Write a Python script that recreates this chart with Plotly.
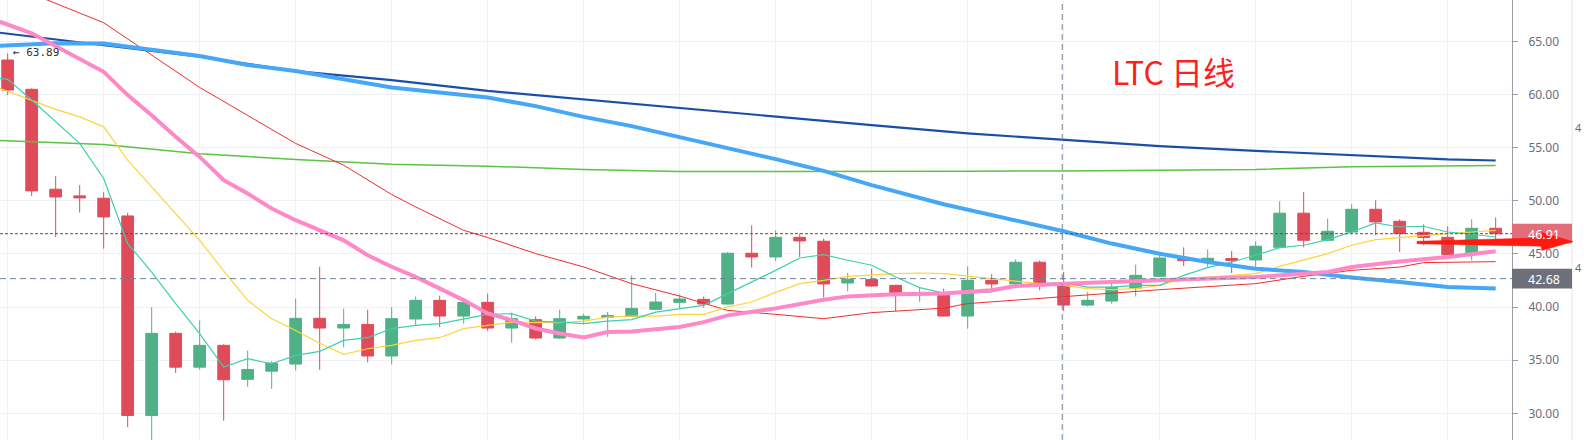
import plotly.graph_objects as go

# ---------------- data ----------------
idx = list(range(63))
opens = [63.26, 60.50, 51.10, 50.47, 50.25, 48.58, 29.80, 37.53, 34.35, 36.40,
         33.20, 33.97, 34.64, 38.94, 38.03, 38.37, 35.40, 38.88, 40.64, 39.16,
         40.45, 38.03, 38.82, 37.09, 38.88, 39.03, 39.13, 39.79, 40.45, 40.73,
         40.29, 45.07, 44.72, 46.57, 46.20, 42.27, 42.59, 42.05, 41.15, 41.10,
         39.16, 42.52, 42.18, 44.22, 42.05, 40.19, 40.57, 41.79, 42.90, 44.57,
         44.35, 44.57, 44.44, 45.63, 48.84, 46.29, 47.07, 49.21, 48.08, 47.04,
         46.57, 45.10, 47.42]
highs = [63.89, 60.60, 52.32, 51.48, 50.82, 48.87, 40.00, 37.70, 38.75, 36.50,
         35.90, 34.90, 40.80, 43.80, 39.85, 39.76, 40.00, 41.00, 41.08, 40.60,
         41.27, 39.48, 39.13, 39.76, 39.38, 39.54, 42.99, 41.33, 41.20, 41.00,
         45.16, 47.70, 47.23, 46.92, 46.45, 43.21, 43.62, 42.10, 41.90, 41.74,
         43.84, 43.09, 44.50, 44.41, 43.30, 41.42, 42.27, 44.00, 45.03, 45.63,
         45.44, 45.28, 46.20, 49.97, 50.84, 48.34, 49.68, 50.06, 48.27, 47.80,
         47.61, 48.27, 48.43]
lows = [59.96, 50.47, 46.60, 48.90, 45.50, 28.70, 27.30, 33.80, 34.10, 29.30,
        32.50, 32.30, 34.04, 34.10, 36.23, 34.80, 34.60, 38.25, 38.12, 38.45,
        37.74, 36.65, 36.96, 37.00, 38.37, 37.20, 39.10, 39.70, 39.88, 39.95,
        40.25, 43.72, 44.34, 44.72, 40.90, 41.48, 41.90, 39.63, 40.50, 39.10,
        37.97, 41.67, 42.10, 41.58, 39.63, 40.07, 40.32, 41.00, 42.83, 43.87,
        43.78, 43.20, 43.68, 45.60, 45.63, 46.20, 46.86, 46.76, 45.19, 45.82,
        44.90, 44.41, 46.30]
closes = [60.43, 50.94, 50.37, 50.28, 48.49, 29.80, 37.53, 34.35, 36.40, 33.16,
          34.13, 34.73, 38.94, 38.03, 38.37, 35.40, 38.91, 40.64, 39.16, 40.45,
          38.03, 38.91, 37.09, 38.91, 39.13, 39.22, 39.88, 40.48, 40.76, 40.29,
          45.07, 44.72, 46.57, 46.23, 42.18, 42.62, 41.99, 41.30, 41.25, 39.16,
          42.52, 42.18, 44.22, 42.21, 40.19, 40.64, 41.86, 42.99, 44.62, 44.38,
          44.60, 44.38, 45.73, 48.84, 46.29, 47.14, 49.21, 48.02, 46.92, 46.55,
          44.94, 47.42, 46.91]

ma_navy_x = [-0.33, 4, 8, 12, 16, 20, 24, 28, 32, 36, 40, 44, 48, 52, 56, 60, 62]
ma_navy_y = [65.83, 64.67, 63.57, 62.22, 61.37, 60.36, 59.55, 58.76, 57.88, 57.13,
             56.35, 55.72, 55.15, 54.71, 54.33, 53.90, 53.80]

ma_sky_x = [-0.33, 2, 4, 6, 8, 10, 12, 16, 20, 22, 24, 26, 28, 30, 32, 34, 36,
            39, 40, 42, 44, 46, 48, 50, 52, 54, 56, 58, 60, 62]
ma_sky_y = [64.60, 64.83, 64.81, 64.20, 63.63, 62.79, 62.22, 60.68, 59.74, 58.92,
            57.91, 57.04, 56.03, 54.93, 53.93, 52.82, 51.48, 49.68, 49.18,
            48.11, 47.14, 45.98, 45.03, 44.25, 43.62, 43.30, 42.78, 42.36, 41.89, 41.74]

ma_green_x = [-0.33, 4, 8, 12, 16, 20, 24, 28, 32, 36, 40, 44, 48, 52, 56, 60, 62]
ma_green_y = [55.69, 55.31, 54.43, 53.90, 53.45, 53.27, 52.95, 52.77, 52.77, 52.75,
              52.79, 52.82, 52.89, 52.95, 53.22, 53.29, 53.33]

ma_red_x = [1, 2, 4, 8, 12, 14, 16, 17, 18, 19, 20, 22, 24, 26, 28, 30, 32, 34, 36,
            39, 40, 44, 48, 52, 54, 56, 58, 59, 62]
ma_red_y = [69.5, 68.6, 66.77, 60.68, 55.41, 53.36, 50.6, 49.43, 48.34, 47.23, 46.55,
            45.04, 43.78, 42.21, 41.04, 39.69, 39.32, 38.91, 39.48, 39.90, 40.33,
            41.01, 41.64, 42.21, 42.90, 43.46, 43.77, 44.19, 44.28]

ma_pink_x = [-0.33, 1, 4, 5, 6, 7, 8, 9, 10, 11, 12, 13, 14, 15, 16, 17, 18, 19, 20,
             21, 22, 23, 24, 25, 26, 28, 29, 30, 32, 34, 35, 37, 39, 41, 42, 44, 48,
             52, 55, 56, 58, 60, 62]
ma_pink_y = [66.87, 65.77, 62.15, 59.96, 58.07, 56.03, 54.14, 51.95, 50.69, 49.28,
             48.18, 47.23, 46.29, 44.88, 43.80, 42.84, 41.76, 40.66, 39.40, 38.78,
             37.99, 37.52, 37.15, 37.65, 37.71, 38.12, 38.59, 39.22, 39.88, 40.70,
             41.01, 41.20, 41.27, 41.58, 41.98, 42.21, 42.52, 42.83, 43.30, 43.77,
             44.30, 44.72, 45.25]

ma_yellow_x = [-0.33, 1, 2, 3, 4, 5, 6, 7, 8, 9, 10, 11, 12, 13, 14, 15, 16, 17, 18,
               19, 20, 21, 22, 23, 24, 25, 26, 27, 28, 29, 30, 31, 32, 33, 34, 35,
               37, 38, 39, 41, 43, 44, 45, 46, 47, 48, 49, 50, 52, 53, 54, 55, 56,
               57, 58, 59, 60, 61, 62]
ma_yellow_y = [60.60, 59.49, 58.61, 57.91, 56.97, 53.83, 51.31, 48.81, 46.29, 43.40,
               40.64, 38.91, 37.80, 36.60, 35.55, 36.08, 36.39, 36.87, 37.12, 37.97,
               38.28, 38.59, 38.53, 38.53, 38.68, 39.06, 39.16, 39.16, 39.32, 39.32,
               40.00, 40.48, 41.39, 42.21, 42.52, 42.90, 43.15, 43.21, 43.15, 42.68,
               42.21, 42.05, 41.74, 41.64, 41.74, 42.05, 42.68, 42.83, 43.15, 43.84,
               44.41, 45.04, 45.82, 46.36, 46.55, 46.76, 46.92, 47.07, 47.23]

ma_teal_x = [-0.33, 0, 1, 2, 3, 4, 5, 6, 7, 8, 9, 10, 11, 12, 13, 14, 15, 16, 17, 18,
             19, 20, 21, 22, 23, 24, 25, 26, 27, 28, 29, 30, 31, 32, 33, 34, 35, 36,
             37, 38, 39, 40, 41, 42, 43, 44, 45, 46, 47, 48, 49, 50, 51, 52, 53, 54,
             55, 56, 57, 58, 59, 60, 61, 62]
ma_teal_y = [61.53, 61.44, 59.49, 57.44, 55.41, 52.11, 45.98, 43.30, 40.33, 37.50,
             34.35, 35.14, 34.67, 35.45, 35.83, 36.87, 37.12, 37.97, 38.28, 38.44,
             38.91, 39.32, 39.38, 38.68, 38.59, 38.44, 38.68, 38.82, 39.53, 39.85,
             40.17, 41.27, 42.36, 43.46, 44.62, 44.94, 44.41, 43.94, 42.83, 41.83,
             41.32, 41.32, 41.42, 42.05, 42.21, 42.30, 41.89, 41.89, 42.05, 42.05,
             42.99, 43.72, 44.25, 44.88, 45.60, 45.82, 46.36, 47.07, 47.92, 47.54,
             47.61, 47.07, 46.86, 46.60]

last_price = 46.91
ref_price = 42.68
high_label = 63.89
crosshair_idx = 44
title_text = "LTC 日线"
y_ticks = [30, 35, 40, 45, 50, 55, 60, 65]

# ---------------- figure ----------------
UP = "#4fb185"
DOWN = "#e04b5a"
W, H = 1584, 440
PLOT_R = 1512  # right edge of the plotting area in px

fig = go.Figure()
fig.add_trace(go.Candlestick(
    x=idx, open=opens, high=highs, low=lows, close=closes,
    increasing=dict(line=dict(color=UP, width=1), fillcolor=UP),
    decreasing=dict(line=dict(color=DOWN, width=1), fillcolor=DOWN),
    whiskerwidth=0, showlegend=False, hoverinfo="skip"))

def ma(x, y, color, width):
    fig.add_trace(go.Scatter(x=x, y=y, mode="lines", line=dict(color=color, width=width),
                             showlegend=False, hoverinfo="skip"))

ma(ma_green_x, ma_green_y, "#5cc345", 1.5)
ma(ma_red_x, ma_red_y, "#f22c2c", 1)
ma(ma_yellow_x, ma_yellow_y, "#fdd43a", 1.2)
ma(ma_teal_x, ma_teal_y, "#3ecfae", 1.2)
ma(ma_navy_x, ma_navy_y, "#1b4ea6", 2.2)
ma(ma_sky_x, ma_sky_y, "#45a7f5", 4)
ma(ma_pink_x, ma_pink_y, "#ff88c6", 4)

shapes = [
    dict(type="line", xref="paper", x0=0, x1=1, yref="y", y0=last_price, y1=last_price,
         line=dict(color="#9b3535", width=1, dash="3px,2px")),
    dict(type="line", xref="paper", x0=0, x1=1, yref="y", y0=ref_price, y1=ref_price,
         line=dict(color="#73869a", width=1, dash="6px,4px")),
    dict(type="line", xref="x", x0=crosshair_idx - 0.06, x1=crosshair_idx - 0.06,
         yref="paper", y0=0, y1=1, line=dict(color="#73869a", width=1, dash="6px,4px")),
    dict(type="line", xref="paper", x0=1572 / PLOT_R, x1=1572 / PLOT_R, yref="paper",
         y0=0, y1=1, line=dict(color="#e1e4ea", width=1)),
    dict(type="rect", xref="paper", x0=1.0, x1=1572 / PLOT_R, yref="y",
         y0=last_price - 0.93, y1=last_price + 0.93, fillcolor="#e36e79",
         line=dict(width=0), layer="above"),
    dict(type="rect", xref="paper", x0=1.0, x1=1572 / PLOT_R, yref="y",
         y0=ref_price - 0.93, y1=ref_price + 0.93, fillcolor="#6d7079",
         line=dict(width=0), layer="above"),
]

def P(px, py):
    return f"{px / PLOT_R:.5f},{1 - py / H:.5f}"
arrow_pts = [(1417, 241.3), (1541, 237.8), (1542, 232.5), (1573, 241.5),
             (1542, 250.5), (1541, 246.2), (1417, 243.8)]
path = "M " + " L ".join(P(*p) for p in arrow_pts) + " Z"
shapes.append(dict(type="path", xref="paper", yref="paper", path=path,
                   fillcolor="#ff1a10", line=dict(color="#ff1a10", width=0.5),
                   layer="above"))

annotations = [
    dict(xref="paper", x=1.0, xanchor="left", yref="y", y=last_price, yanchor="middle",
         text=f"{last_price:.2f}", showarrow=False, width=60, height=20,
         font=dict(family="Noto Sans", size=12.5, color="white")),
    dict(xref="paper", x=1.0, xanchor="left", yref="y", y=ref_price, yanchor="middle",
         text=f"{ref_price:.2f}", showarrow=False, width=60, height=20,
         font=dict(family="Noto Sans", size=12.5, color="white")),
    dict(xref="x", x=0.12, xanchor="left", yref="y", y=high_label + 0.08, yanchor="middle",
         text=f"← {high_label:.2f}", showarrow=False,
         font=dict(family="DejaVu Sans Mono", size=11, color="#333333")),
    dict(xref="x", x=45.93, xanchor="left", yref="y", y=62.27, yanchor="middle",
         text=title_text, showarrow=False,
         font=dict(family="Noto Sans CJK SC", size=32, color="#ff1f1f")),
    dict(xref="paper", x=1583.5 / PLOT_R, xanchor="right", yref="y", y=56.95,
         yanchor="middle", text="4", showarrow=False,
         font=dict(family="Noto Sans", size=11, color="#6a6d78")),
    dict(xref="paper", x=1583.5 / PLOT_R, xanchor="right", yref="y", y=43.77,
         yanchor="middle", text="4", showarrow=False,
         font=dict(family="Noto Sans", size=11, color="#6a6d78")),
]

fig.update_layout(
    width=W, height=H, margin=dict(l=0, r=W - PLOT_R, t=0, b=0, autoexpand=False),
    paper_bgcolor="white", plot_bgcolor="white", showlegend=False,
    shapes=shapes, annotations=annotations,
    xaxis=dict(range=[-0.32, 62.68], tick0=0, dtick=4, showgrid=True,
               gridcolor="#eef2f4", gridwidth=1, showticklabels=False, ticks="",
               zeroline=False, showline=False, rangeslider=dict(visible=False),
               fixedrange=True),
    yaxis=dict(side="right", range=[27.49, 68.91], tickmode="array", tickvals=y_ticks,
               ticktext=[f"{v:.2f}" for v in y_ticks], showgrid=True,
               gridcolor="#eef2f4", gridwidth=1, zeroline=False, showline=True,
               linecolor="#9a9da6", linewidth=1, ticks="outside", ticklen=5,
               tickcolor="#9a9da6", ticklabelstandoff=8,
               tickfont=dict(family="Noto Sans", size=12, color="#6a6d78"),
               fixedrange=True),
    hovermode=False,
)

fig.write_html("out.html", config={"displayModeBar": False, "staticPlot": True},
               post_script="document.body.style.margin='0px';document.body.style.overflow='hidden';")
